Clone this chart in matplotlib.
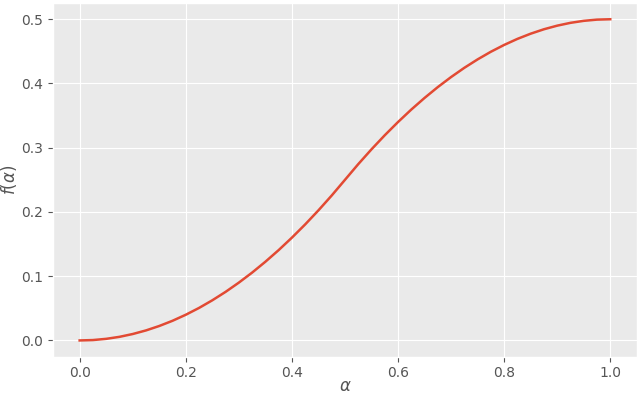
import matplotlib
matplotlib.use('Agg')
import matplotlib.pyplot as plt

# values
alpha = [0.0, 0.025, 0.05, 0.075, 0.1, 0.125, 0.15, 0.175, 0.2, 0.225, 0.25,
         0.275, 0.3, 0.325, 0.35, 0.375, 0.4, 0.425, 0.45, 0.475, 0.5,
         0.525, 0.55, 0.575, 0.6, 0.625, 0.65, 0.675, 0.7, 0.725, 0.75,
         0.775, 0.8, 0.825, 0.85, 0.875, 0.9, 0.925, 0.95, 0.975, 1.0]
f_alpha = [0.0, 0.0006, 0.0025, 0.0056, 0.01, 0.0156, 0.0225, 0.0306, 0.04, 0.0506, 0.0625,
           0.0756, 0.09, 0.1056, 0.1225, 0.1406, 0.16, 0.1806, 0.2025, 0.2256, 0.25,
           0.2744, 0.2975, 0.3194, 0.34, 0.3594, 0.3775, 0.3944, 0.41, 0.4244, 0.4375,
           0.4494, 0.46, 0.4694, 0.4775, 0.4844, 0.49, 0.4944, 0.4975, 0.4994, 0.5]


def main():
    plt.style.use('ggplot')
    fig, ax = plt.subplots(figsize=(6.4, 3.97), dpi=100)
    ax.set_facecolor('#EAEAEA')
    ax.plot(alpha, f_alpha, color='#E24A33', linewidth=1.8)
    ax.set_xlabel(r'$\alpha$', labelpad=-2)
    ax.set_ylabel(r'$f(\alpha)$', labelpad=2)
    fig.subplots_adjust(left=0.083, right=0.995, top=0.992, bottom=0.102)
    fig.savefig('out.png')


if __name__ == '__main__':
    main()
